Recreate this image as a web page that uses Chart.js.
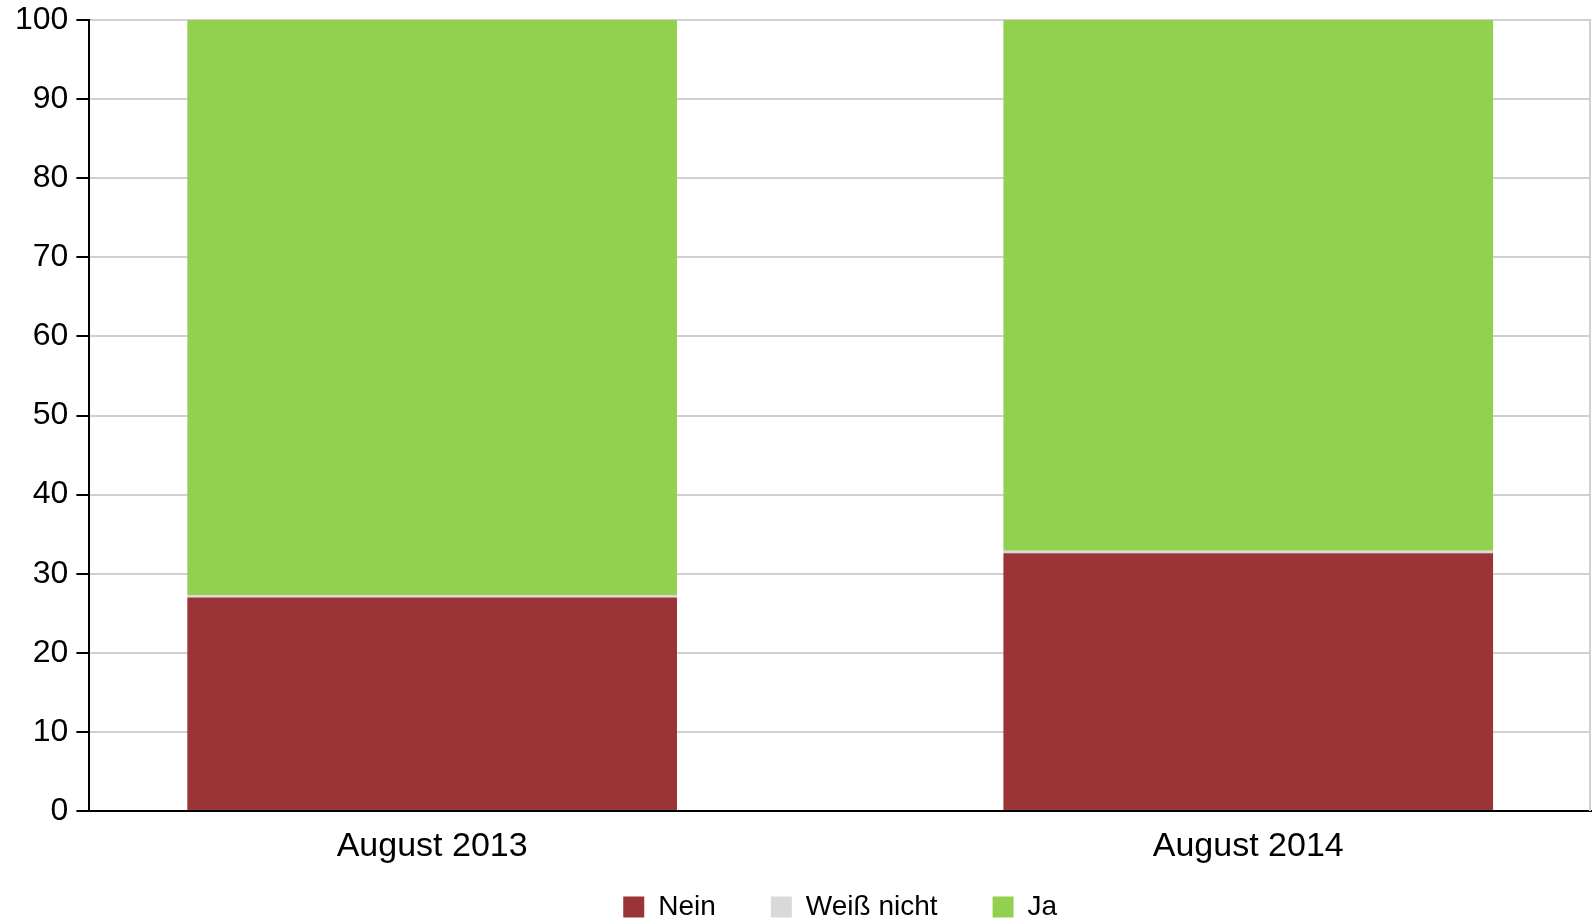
<!DOCTYPE html>
<html>
<head>
<meta charset="utf-8">
<script src="https://cdn.jsdelivr.net/npm/chart.js@4/dist/chart.umd.min.js"></script>
<style>
  html, body { margin: 0; padding: 0; background: #fff; }
  canvas { display: block; }
</style>
</head>
<body>
<canvas id="c" width="1595" height="922"></canvas>
<script>
// --- data ---
const categories = ['August 2013', 'August 2014'];
const nein = [27.0, 32.6];
const weissNicht = [0.3, 0.3];
const ja = [72.7, 67.1];
const yTicks = [0, 10, 20, 30, 40, 50, 60, 70, 80, 90, 100];

const FONT = "'Liberation Sans', Arial, sans-serif";

// bars sit on a linear x axis so the outer margins can be wider than a category slot
const toPoints = arr => arr.map((v, i) => ({ x: i, y: v }));

// grey frame line on the right edge; x labels hang into the legend band
const frame = {
  id: 'frame',
  afterLayout(chart) {
    const x = chart.scales.x;
    x.bottom = x.top + 80;
  },
  beforeDatasetsDraw(chart) {
    const { ctx, chartArea } = chart;
    ctx.save();
    ctx.strokeStyle = '#d0d0d0';
    ctx.lineWidth = 2;
    ctx.beginPath();
    ctx.moveTo(chartArea.right - 1, chartArea.top);
    ctx.lineTo(chartArea.right - 1, chartArea.bottom);
    ctx.stroke();
    ctx.restore();
  }
};

new Chart(document.getElementById('c').getContext('2d'), {
  type: 'bar',
  data: {
    datasets: [
      { label: 'Nein', data: toPoints(nein), backgroundColor: '#9b3436' },
      { label: 'Weiß nicht', data: toPoints(weissNicht), backgroundColor: '#d9d9d9' },
      { label: 'Ja', data: toPoints(ja), backgroundColor: '#92d050' }
    ]
  },
  options: {
    responsive: false,
    animation: false,
    layout: { padding: { top: 0, right: 4, left: 7, bottom: 0 } },
    datasets: { bar: { barPercentage: 0.6, categoryPercentage: 1 } },
    scales: {
      x: {
        type: 'linear',
        stacked: true,
        offset: false,
        min: -0.42,
        max: 1.42,
        afterBuildTicks: axis => { axis.ticks = categories.map((_, i) => ({ value: i })); },
        afterFit: axis => { axis.height = 27; },
        ticks: {
          callback: v => categories[v] ?? '',
          color: '#000',
          font: { family: FONT, size: 34, lineHeight: 1 },
          padding: 19,
          maxRotation: 0
        },
        grid: { display: false, drawTicks: false, offset: false },
        border: { display: true, color: '#000', width: 2 }
      },
      y: {
        stacked: true,
        min: 0,
        max: 100,
        afterBuildTicks: axis => { axis.ticks = yTicks.map(v => ({ value: v })); },
        ticks: {
          color: '#000',
          font: { family: FONT, size: 32, lineHeight: 0.75 },
          padding: 8
        },
        grid: { color: '#d0d0d0', lineWidth: 2, tickColor: '#000', tickLength: 13, drawTicks: true },
        border: { display: true, color: '#000', width: 2 }
      }
    },
    plugins: {
      legend: {
        position: 'bottom',
        fullSize: false,
        maxHeight: 84,
        labels: {
          color: '#000',
          font: { family: FONT, size: 28 },
          boxWidth: 21,
          boxHeight: 21,
          padding: 55
        }
      },
      tooltip: { enabled: false }
    }
  },
  plugins: [frame]
});
</script>
</body>
</html>
